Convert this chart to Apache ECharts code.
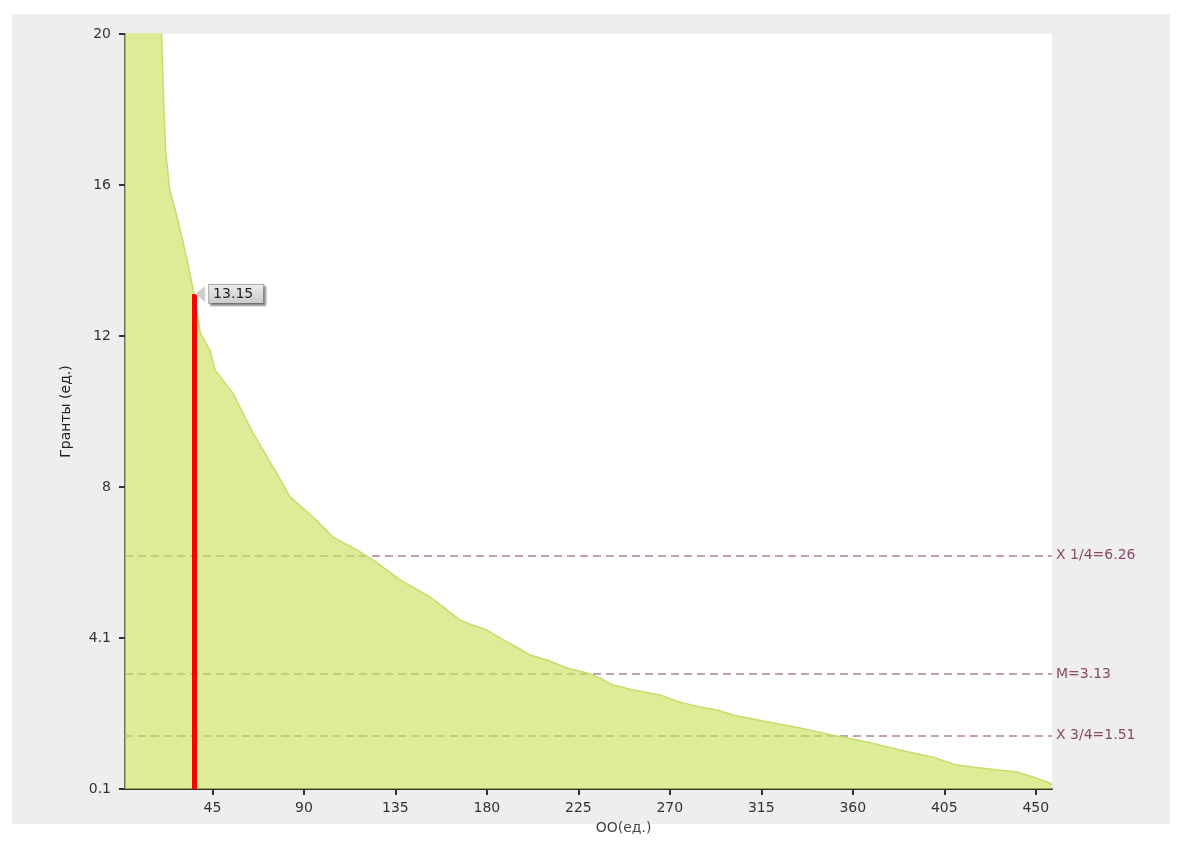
<!DOCTYPE html>
<html>
<head>
<meta charset="utf-8">
<script src="https://cdn.jsdelivr.net/npm/echarts@6/dist/echarts.min.js"></script>
<style>
  html, body { margin: 0; padding: 0; background: #fff; }
  #chart { width: 1182px; height: 841px; }
</style>
</head>
<body>
<div id="chart"></div>
<script>
// OO count (x) and grant value (y)
var oo = [2, 6, 10, 14, 18, 20, 21, 22, 24, 27.5, 30, 32.5, 36, 39, 43.8, 46.3, 55, 65, 74.8, 83.2,
  94.5, 104.3, 116, 124, 137.3, 152, 160.4, 166.8, 173.2, 180, 188, 194.8, 201.2, 209.6, 219.4,
  229.3, 235.6, 242, 252, 265.2, 275, 284.8, 293.2, 301, 317.8, 334, 350.3, 367, 383.2, 399.4,
  411.2, 424, 440.7, 448.6, 457, 458];
var grants = [48, 34, 28, 24, 21, 20, 18.3, 16.9, 15.9, 15.2, 14.65, 14.05, 13.15, 12.12, 11.67, 11.14, 10.54, 9.48, 8.59, 7.8,
  7.27, 6.74, 6.4, 6.14, 5.61, 5.16, 4.82, 4.55, 4.42, 4.29, 4.03, 3.84, 3.63, 3.5, 3.29,
  3.16, 3.03, 2.84, 2.71, 2.58, 2.39, 2.26, 2.18, 2.05, 1.87, 1.71, 1.52, 1.34, 1.13, 0.94,
  0.73, 0.65, 0.55, 0.42, 0.26, 0.22];

var xTicks = [45, 90, 135, 180, 225, 270, 315, 360, 405, 450];
var yTickValues = [0.1, 4.08, 8.06, 12.04, 16.02, 20];
var yTickLabels = ['0.1', '4.1', '8', '12', '16', '20'];

var quartileNames = ['X 1/4', 'M', 'X 3/4'];
var quartileValues = [6.26, 3.13, 1.51];

var markerX = 36;
var markerValue = 13.15;

var chartDom = document.getElementById('chart');
var myChart = echarts.init(chartDom);

var seriesData = [];
for (var i = 0; i < oo.length; i++) {
  seriesData.push([oo[i], grants[i]]);
}

var quartLines = [];
for (var j = 0; j < quartileValues.length; j++) {
  quartLines.push({
    yAxis: quartileValues[j],
    name: quartileNames[j],
    label: { formatter: quartileNames[j] + '=' + quartileValues[j] }
  });
}

var fontName = 'DejaVu Sans';

var option = {
  backgroundColor: '#fff',
  animation: false,
  graphic: [{
    type: 'rect',
    z: -10,
    shape: { x: 12, y: 14, width: 1158, height: 810 },
    style: { fill: '#eeeeee' },
    silent: true
  }],
  grid: {
    left: 125, right: 130, top: 34, bottom: 52,
    show: true, backgroundColor: '#fff', borderWidth: 0
  },
  xAxis: {
    type: 'value',
    min: 2,
    max: 458,
    name: 'OO(ед.)',
    nameLocation: 'middle',
    nameGap: 32,
    nameTextStyle: { color: '#444', fontSize: 14, fontFamily: fontName, padding: [0, 0, 0, 70] },
    splitLine: { show: false },
    axisLine: { show: true, lineStyle: { color: '#333', width: 2 } },
    axisTick: { show: true, customValues: xTicks, length: 6, lineStyle: { color: '#333', width: 2 } },
    axisLabel: { customValues: xTicks, margin: 12, color: '#333', fontSize: 14, fontFamily: fontName }
  },
  yAxis: {
    type: 'value',
    min: 0.1,
    max: 20,
    name: 'Гранты (ед.)',
    nameLocation: 'middle',
    nameGap: 52,
    nameRotate: 90,
    nameTextStyle: { color: '#222', fontSize: 14, fontFamily: fontName },
    splitLine: { show: false },
    axisLine: { show: true, lineStyle: { color: '#6e6e5a', width: 2 } },
    axisTick: { show: true, customValues: yTickValues, length: 6, lineStyle: { color: '#333', width: 2 } },
    axisLabel: {
      customValues: yTickValues,
      margin: 14,
      color: '#333',
      fontSize: 14,
      fontFamily: fontName,
      formatter: function (v) {
        var idx = yTickValues.indexOf(v);
        return idx >= 0 ? yTickLabels[idx] : '';
      }
    }
  },
  series: [
    {
      // quartile lines, kept under the area
      name: 'quartiles',
      type: 'line',
      data: [],
      z: 1,
      silent: true,
      markLine: {
        silent: true,
        z: 1,
        symbol: 'none',
        lineStyle: { color: '#b08296', type: [8, 5], width: 1.5 },
        label: {
          show: true,
          position: 'end',
          distance: 4,
          color: '#8a4a68',
          fontSize: 14,
          fontFamily: fontName
        },
        data: quartLines
      }
    },
    {
      name: 'Гранты',
      type: 'line',
      data: seriesData,
      z: 2,
      clip: true,
      symbol: 'none',
      lineStyle: { color: '#c5dd6a', width: 1.5 },
      areaStyle: { color: '#cbe25e', opacity: 0.65, origin: 'start' },
      markLine: {
        silent: true,
        z: 5,
        symbol: 'none',
        label: { show: false },
        lineStyle: { color: '#ff0000', type: 'solid', width: 5 },
        data: [[{ coord: [markerX, 0.1] }, { coord: [markerX, markerValue] }]]
      },
      markPoint: {
        silent: true,
        z: 6,
        symbol: 'triangle',
        symbolRotate: 90,
        symbolSize: [16, 10],
        symbolOffset: [6, 0],
        itemStyle: { color: '#cdcdcd' },
        label: {
          show: true,
          position: 'right',
          distance: 4,
          formatter: function (p) { return p.value.toFixed(2); },
          color: '#222',
          fontSize: 14,
          fontFamily: fontName,
          backgroundColor: {
            type: 'linear', x: 0, y: 0, x2: 0, y2: 1,
            colorStops: [{ offset: 0, color: '#ececec' }, { offset: 1, color: '#c9c9c9' }]
          },
          borderColor: '#aaa',
          borderWidth: 1,
          padding: [2, 10, 2, 4],
          shadowColor: 'rgba(0,0,0,0.35)',
          shadowOffsetX: 2,
          shadowOffsetY: 2,
          shadowBlur: 2
        },
        data: [{ coord: [markerX, markerValue], value: markerValue }]
      }
    }
  ]
};

option && myChart.setOption(option);
</script>
</body>
</html>
